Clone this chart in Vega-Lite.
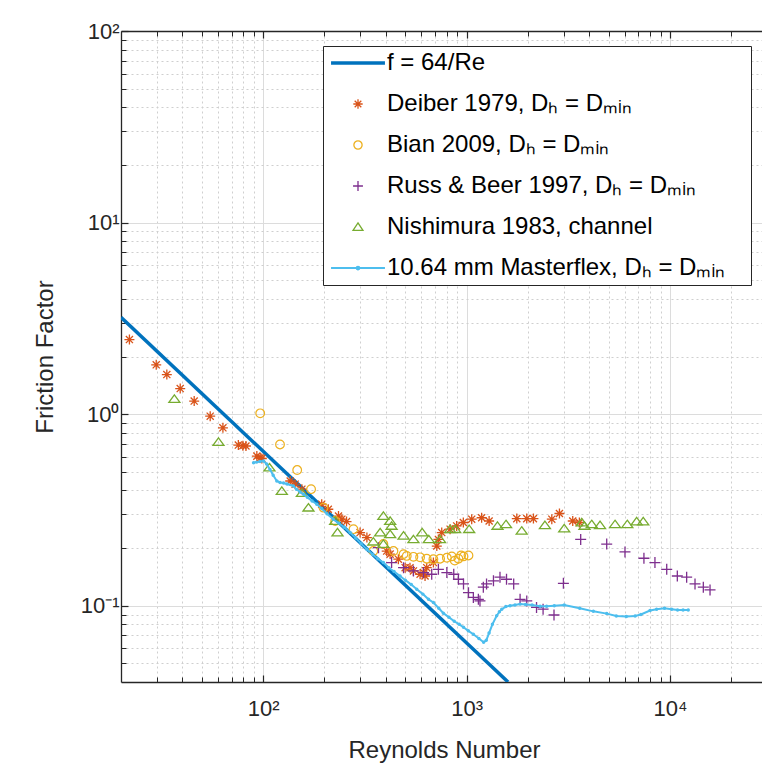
{
  "$schema": "https://vega.github.io/schema/vega-lite/v6.json",
  "width": 646,
  "height": 651,
  "autosize": {"type": "none"},
  "padding": {"left": 121, "top": 31, "right": 0, "bottom": 88},
  "background": "white",
  "config": {
    "view": {"stroke": null},
    "font": "Liberation Sans",
    "axis": {"labelFont": "Liberation Sans", "titleFont": "Liberation Sans", "labelColor": "#262626", "titleColor": "#262626", "titleFontWeight": "normal"}
  },
  "datasets": {
    "fline": [
      {"series": "f", "re": 20, "f": 3.2},
      {"series": "f", "re": 1600, "f": 0.04}
    ],
    "deiber": [
      {"series": "deiber", "re": 22, "f": 2.45}, {"series": "deiber", "re": 29.8, "f": 1.81}, {"series": "deiber", "re": 33.6, "f": 1.61},
      {"series": "deiber", "re": 39.1, "f": 1.36}, {"series": "deiber", "re": 45.8, "f": 1.17}, {"series": "deiber", "re": 54.9, "f": 0.976},
      {"series": "deiber", "re": 63.4, "f": 0.849}, {"series": "deiber", "re": 75.5, "f": 0.69}, {"series": "deiber", "re": 79.5, "f": 0.685},
      {"series": "deiber", "re": 82.3, "f": 0.682}, {"series": "deiber", "re": 93.1, "f": 0.604}, {"series": "deiber", "re": 96.7, "f": 0.59},
      {"series": "deiber", "re": 98.5, "f": 0.587}, {"series": "deiber", "re": 135.8, "f": 0.448}, {"series": "deiber", "re": 143.6, "f": 0.431},
      {"series": "deiber", "re": 155, "f": 0.406}, {"series": "deiber", "re": 194, "f": 0.339}, {"series": "deiber", "re": 209, "f": 0.319},
      {"series": "deiber", "re": 234.6, "f": 0.294}, {"series": "deiber", "re": 243.7, "f": 0.283}, {"series": "deiber", "re": 257, "f": 0.275},
      {"series": "deiber", "re": 299.6, "f": 0.241}, {"series": "deiber", "re": 323.6, "f": 0.227}, {"series": "deiber", "re": 405, "f": 0.193},
      {"series": "deiber", "re": 421, "f": 0.186}, {"series": "deiber", "re": 462, "f": 0.175}, {"series": "deiber", "re": 499, "f": 0.158},
      {"series": "deiber", "re": 527, "f": 0.158}, {"series": "deiber", "re": 548, "f": 0.152}, {"series": "deiber", "re": 591, "f": 0.146},
      {"series": "deiber", "re": 614, "f": 0.149}, {"series": "deiber", "re": 625, "f": 0.143}, {"series": "deiber", "re": 637, "f": 0.158},
      {"series": "deiber", "re": 687, "f": 0.168}, {"series": "deiber", "re": 714, "f": 0.205}, {"series": "deiber", "re": 727, "f": 0.222},
      {"series": "deiber", "re": 755, "f": 0.241}, {"series": "deiber", "re": 830, "f": 0.251}, {"series": "deiber", "re": 894, "f": 0.261},
      {"series": "deiber", "re": 964, "f": 0.272}, {"series": "deiber", "re": 1060, "f": 0.283}, {"series": "deiber", "re": 1186, "f": 0.288},
      {"series": "deiber", "re": 1291, "f": 0.277}, {"series": "deiber", "re": 1766, "f": 0.285}, {"series": "deiber", "re": 1977, "f": 0.285},
      {"series": "deiber", "re": 2132, "f": 0.285}, {"series": "deiber", "re": 2625, "f": 0.283}, {"series": "deiber", "re": 2862, "f": 0.303},
      {"series": "deiber", "re": 3327, "f": 0.277}, {"series": "deiber", "re": 3586, "f": 0.272}
    ],
    "bian": [
      {"series": "bian", "re": 96.7, "f": 1.01}, {"series": "bian", "re": 121, "f": 0.695}, {"series": "bian", "re": 147, "f": 0.511},
      {"series": "bian", "re": 172, "f": 0.406}, {"series": "bian", "re": 198, "f": 0.325}, {"series": "bian", "re": 226, "f": 0.277},
      {"series": "bian", "re": 278, "f": 0.251}, {"series": "bian", "re": 348, "f": 0.193}, {"series": "bian", "re": 390, "f": 0.21},
      {"series": "bian", "re": 437, "f": 0.193}, {"series": "bian", "re": 490, "f": 0.186}, {"series": "bian", "re": 508, "f": 0.182},
      {"series": "bian", "re": 548, "f": 0.18}, {"series": "bian", "re": 591, "f": 0.179}, {"series": "bian", "re": 637, "f": 0.176},
      {"series": "bian", "re": 687, "f": 0.175}, {"series": "bian", "re": 741, "f": 0.176}, {"series": "bian", "re": 800, "f": 0.178},
      {"series": "bian", "re": 846, "f": 0.181}, {"series": "bian", "re": 875, "f": 0.172}, {"series": "bian", "re": 912, "f": 0.176},
      {"series": "bian", "re": 940, "f": 0.183}, {"series": "bian", "re": 966, "f": 0.181}, {"series": "bian", "re": 1022, "f": 0.183}
    ],
    "russ": [
      {"series": "russ", "re": 369, "f": 0.201}, {"series": "russ", "re": 428, "f": 0.168}, {"series": "russ", "re": 490, "f": 0.158},
      {"series": "russ", "re": 548, "f": 0.152}, {"series": "russ", "re": 614, "f": 0.149}, {"series": "russ", "re": 674, "f": 0.146},
      {"series": "russ", "re": 727, "f": 0.155}, {"series": "russ", "re": 800, "f": 0.149}, {"series": "russ", "re": 865, "f": 0.146},
      {"series": "russ", "re": 912, "f": 0.1375}, {"series": "russ", "re": 966, "f": 0.13}, {"series": "russ", "re": 1022, "f": 0.117},
      {"series": "russ", "re": 1080, "f": 0.1105}, {"series": "russ", "re": 1143, "f": 0.108}, {"series": "russ", "re": 1164, "f": 0.106},
      {"series": "russ", "re": 1209, "f": 0.125}, {"series": "russ", "re": 1254, "f": 0.13}, {"series": "russ", "re": 1356, "f": 0.135},
      {"series": "russ", "re": 1460, "f": 0.141}, {"series": "russ", "re": 1572, "f": 0.1375}, {"series": "russ", "re": 1705, "f": 0.13},
      {"series": "russ", "re": 1833, "f": 0.108}, {"series": "russ", "re": 1977, "f": 0.106}, {"series": "russ", "re": 2208, "f": 0.098},
      {"series": "russ", "re": 2378, "f": 0.096}, {"series": "russ", "re": 2691, "f": 0.0895}, {"series": "russ", "re": 2993, "f": 0.131},
      {"series": "russ", "re": 3640, "f": 0.222}, {"series": "russ", "re": 4887, "f": 0.21}, {"series": "russ", "re": 6010, "f": 0.191},
      {"series": "russ", "re": 7448, "f": 0.177}, {"series": "russ", "re": 8437, "f": 0.168}, {"series": "russ", "re": 9640, "f": 0.155},
      {"series": "russ", "re": 10870, "f": 0.143}, {"series": "russ", "re": 12080, "f": 0.141}, {"series": "russ", "re": 13280, "f": 0.13},
      {"series": "russ", "re": 14590, "f": 0.125}, {"series": "russ", "re": 15740, "f": 0.121}
    ],
    "nish": [
      {"series": "nish", "re": 36.6, "f": 1.2}, {"series": "nish", "re": 60.3, "f": 0.715}, {"series": "nish", "re": 107.4, "f": 0.526},
      {"series": "nish", "re": 123.5, "f": 0.397}, {"series": "nish", "re": 155, "f": 0.387}, {"series": "nish", "re": 167, "f": 0.325},
      {"series": "nish", "re": 226, "f": 0.277}, {"series": "nish", "re": 232, "f": 0.241}, {"series": "nish", "re": 348, "f": 0.216},
      {"series": "nish", "re": 376, "f": 0.241}, {"series": "nish", "re": 390, "f": 0.294}, {"series": "nish", "re": 390, "f": 0.21},
      {"series": "nish", "re": 421, "f": 0.277}, {"series": "nish", "re": 428, "f": 0.261}, {"series": "nish", "re": 421, "f": 0.236},
      {"series": "nish", "re": 490, "f": 0.232}, {"series": "nish", "re": 548, "f": 0.222}, {"series": "nish", "re": 605, "f": 0.241},
      {"series": "nish", "re": 652, "f": 0.222}, {"series": "nish", "re": 741, "f": 0.222}, {"series": "nish", "re": 830, "f": 0.251},
      {"series": "nish", "re": 879, "f": 0.251}, {"series": "nish", "re": 1030, "f": 0.251}, {"series": "nish", "re": 1419, "f": 0.261},
      {"series": "nish", "re": 1563, "f": 0.266}, {"series": "nish", "re": 1867, "f": 0.246}, {"series": "nish", "re": 2428, "f": 0.263},
      {"series": "nish", "re": 3021, "f": 0.253}, {"series": "nish", "re": 3683, "f": 0.272}, {"series": "nish", "re": 3800, "f": 0.261},
      {"series": "nish", "re": 4124, "f": 0.266}, {"series": "nish", "re": 4532, "f": 0.263}, {"series": "nish", "re": 5370, "f": 0.266},
      {"series": "nish", "re": 6170, "f": 0.266}, {"series": "nish", "re": 6858, "f": 0.275}, {"series": "nish", "re": 7390, "f": 0.275}
    ],
    "mf": [
      {"series": "mf", "re": 89.7, "f": 0.558}, {"series": "mf", "re": 93, "f": 0.562}, {"series": "mf", "re": 96.5, "f": 0.566},
      {"series": "mf", "re": 100.4, "f": 0.57}, {"series": "mf", "re": 104, "f": 0.55}, {"series": "mf", "re": 108, "f": 0.515},
      {"series": "mf", "re": 112, "f": 0.48}, {"series": "mf", "re": 116.7, "f": 0.448}, {"series": "mf", "re": 121, "f": 0.44},
      {"series": "mf", "re": 126, "f": 0.437}, {"series": "mf", "re": 131, "f": 0.432}, {"series": "mf", "re": 140.8, "f": 0.422},
      {"series": "mf", "re": 146, "f": 0.405}, {"series": "mf", "re": 152, "f": 0.392}, {"series": "mf", "re": 157.9, "f": 0.382},
      {"series": "mf", "re": 165, "f": 0.368}, {"series": "mf", "re": 174, "f": 0.352}, {"series": "mf", "re": 183.5, "f": 0.339},
      {"series": "mf", "re": 194, "f": 0.322}, {"series": "mf", "re": 206, "f": 0.302}, {"series": "mf", "re": 221, "f": 0.283},
      {"series": "mf", "re": 235, "f": 0.27}, {"series": "mf", "re": 250, "f": 0.257}, {"series": "mf", "re": 267.6, "f": 0.241},
      {"series": "mf", "re": 285, "f": 0.226}, {"series": "mf", "re": 303, "f": 0.211}, {"series": "mf", "re": 323.6, "f": 0.197},
      {"series": "mf", "re": 345, "f": 0.185}, {"series": "mf", "re": 366, "f": 0.176}, {"series": "mf", "re": 390, "f": 0.168},
      {"series": "mf", "re": 415, "f": 0.158}, {"series": "mf", "re": 440, "f": 0.151}, {"series": "mf", "re": 471, "f": 0.143},
      {"series": "mf", "re": 500, "f": 0.136}, {"series": "mf", "re": 535, "f": 0.129}, {"series": "mf", "re": 569, "f": 0.122},
      {"series": "mf", "re": 610, "f": 0.115}, {"series": "mf", "re": 650, "f": 0.108}, {"series": "mf", "re": 687, "f": 0.104},
      {"series": "mf", "re": 730, "f": 0.097}, {"series": "mf", "re": 769, "f": 0.0915}, {"series": "mf", "re": 820, "f": 0.087},
      {"series": "mf", "re": 870, "f": 0.083}, {"series": "mf", "re": 920, "f": 0.08}, {"series": "mf", "re": 966, "f": 0.0772},
      {"series": "mf", "re": 1020, "f": 0.074}, {"series": "mf", "re": 1080, "f": 0.071}, {"series": "mf", "re": 1150, "f": 0.0675},
      {"series": "mf", "re": 1213, "f": 0.0645}, {"series": "mf", "re": 1250, "f": 0.066}, {"series": "mf", "re": 1290, "f": 0.072},
      {"series": "mf", "re": 1340, "f": 0.08}, {"series": "mf", "re": 1406, "f": 0.0887}, {"series": "mf", "re": 1450, "f": 0.093},
      {"series": "mf", "re": 1490, "f": 0.096}, {"series": "mf", "re": 1560, "f": 0.099}, {"series": "mf", "re": 1636, "f": 0.1},
      {"series": "mf", "re": 1730, "f": 0.101}, {"series": "mf", "re": 1833, "f": 0.102}, {"series": "mf", "re": 1950, "f": 0.1015},
      {"series": "mf", "re": 2100, "f": 0.101}, {"series": "mf", "re": 2300, "f": 0.0995}, {"series": "mf", "re": 2476, "f": 0.0995},
      {"series": "mf", "re": 2700, "f": 0.1}, {"series": "mf", "re": 3021, "f": 0.1008}, {"series": "mf", "re": 3600, "f": 0.097},
      {"series": "mf", "re": 4200, "f": 0.0935}, {"series": "mf", "re": 4887, "f": 0.091}, {"series": "mf", "re": 5450, "f": 0.0885},
      {"series": "mf", "re": 6100, "f": 0.088}, {"series": "mf", "re": 6740, "f": 0.0885}, {"series": "mf", "re": 7200, "f": 0.09},
      {"series": "mf", "re": 7980, "f": 0.0945}, {"series": "mf", "re": 8600, "f": 0.096}, {"series": "mf", "re": 9400, "f": 0.097},
      {"series": "mf", "re": 10200, "f": 0.096}, {"series": "mf", "re": 10900, "f": 0.095}, {"series": "mf", "re": 11600, "f": 0.095},
      {"series": "mf", "re": 12300, "f": 0.095}
    ]
  },
  "resolve": {"axis": {"x": "independent", "y": "independent"}},
  "layer": [
    {
      "data": {"name": "fline"},
      "mark": {"type": "line", "strokeWidth": 3.5, "clip": true},
      "encoding": {
        "x": {"field": "re", "type": "quantitative", "scale": {"type": "log", "domain": [20, 30000], "nice": false},
          "axis": {"orient": "bottom", "values": [100, 1000, 10000], "grid": true, "gridColor": "#dcdcdc", "gridWidth": 1,
            "domain": true, "domainColor": "#262626", "domainWidth": 1.3, "ticks": true, "tickSize": -7, "tickColor": "#262626", "tickWidth": 1.2,
            "labelExpr": "datum.value < 500 ? '10²' : datum.value < 5000 ? '10³' : '10⁴'", "labelFontSize": 22, "labelPadding": 23, "labelFlush": false,
            "title": "Reynolds Number", "titleFontSize": 24, "titlePadding": 19}},
        "y": {"field": "f", "type": "quantitative", "scale": {"type": "log", "domain": [0.04, 100], "nice": false},
          "axis": {"orient": "left", "values": [0.1, 1, 10, 100], "grid": true, "gridColor": "#dcdcdc", "gridWidth": 1,
            "domain": true, "domainColor": "#262626", "domainWidth": 1.3, "ticks": true, "tickSize": -7, "tickColor": "#262626", "tickWidth": 1.2,
            "labelExpr": "datum.value < 0.5 ? '10⁻¹' : datum.value < 5 ? '10⁰' : datum.value < 50 ? '10¹' : '10²'", "labelFontSize": 22, "labelPadding": 9, "labelFlush": false,
            "title": "Friction Factor", "titleFontSize": 24, "titlePadding": 23}},
        "color": {"field": "series", "type": "nominal",
          "scale": {"domain": ["f", "deiber", "bian", "russ", "nish", "mf"], "range": ["#0072BD", "#D95319", "#EDB120", "#7E2F8E", "#77AC30", "#4DBEEE"]},
          "legend": {
            "title": null, "orient": "none", "legendX": 202, "legendY": 15, "direction": "vertical",
            "strokeColor": "#262626", "fillColor": "white", "padding": 5,
            "symbolSize": 3025, "symbolStrokeWidth": 1.3, "symbolOffset": 18,
            "labelFontSize": 24, "labelFont": "Liberation Sans", "labelColor": "#000000", "labelLimit": 700, "labelOffset": 17, "rowPadding": 17,
            "labelExpr": "datum.value == 'f' ? 'f = 64/Re' : datum.value == 'deiber' ? 'Deiber 1979, Dₕ = Dₘᵢₙ' : datum.value == 'bian' ? 'Bian 2009, Dₕ = Dₘᵢₙ' : datum.value == 'russ' ? 'Russ & Beer 1997, Dₕ = Dₘᵢₙ' : datum.value == 'nish' ? 'Nishimura 1983, channel' : '10.64 mm Masterflex, Dₕ = Dₘᵢₙ\u00a0\u00a0\u00a0\u200b'",
            "encode": {"symbols": {"update": {
              "shape": {"signal": "datum.value == 'f' ? 'M-0.98,0L0.98,0' : datum.value == 'deiber' ? 'M-0.17,0L0.17,0M0,-0.17L0,0.17M-0.12,-0.12L0.12,0.12M-0.12,0.12L0.12,-0.12' : datum.value == 'bian' ? 'M0.15,0A0.15,0.15 0 1,1 -0.15,0A0.15,0.15 0 1,1 0.15,0Z' : datum.value == 'russ' ? 'M-0.18,0L0.18,0M0,-0.18L0,0.18' : datum.value == 'nish' ? 'M0,-0.15L0.18,0.12L-0.18,0.12Z' : 'M-0.98,0L0.98,0M0.05,0A0.05,0.05 0 1,1 -0.05,0A0.05,0.05 0 1,1 0.05,0Z'"},
              "strokeWidth": {"signal": "datum.value == 'f' ? 3.5 : datum.value == 'mf' ? 2 : 1.3"},
              "fill": {"value": "transparent"},
              "fillOpacity": {"value": 0},
              "size": {"value": 3025}
            }}}
          }}
      }
    },
    {
      "data": {"name": "deiber"},
      "mark": {"type": "point", "shape": "M-1,0L1,0M0,-1L0,1M-0.71,-0.71L0.71,0.71M-0.71,0.71L0.71,-0.71", "filled": false, "size": 100, "strokeWidth": 1.3, "opacity": 1, "clip": true},
      "encoding": {
        "x": {"field": "re", "type": "quantitative", "scale": {"type": "log", "domain": [20, 30000], "nice": false},
          "axis": {"orient": "bottom", "values": [30, 40, 50, 60, 70, 80, 90, 200, 300, 400, 500, 600, 700, 800, 900, 2000, 3000, 4000, 5000, 6000, 7000, 8000, 9000, 20000],
            "grid": true, "gridColor": "#cfcfcf", "gridDash": [2, 3], "gridWidth": 1, "domain": false, "ticks": true, "tickSize": -5, "tickColor": "#262626", "tickWidth": 1, "labels": false, "title": null}},
        "y": {"field": "f", "type": "quantitative", "scale": {"type": "log", "domain": [0.04, 100], "nice": false},
          "axis": {"orient": "left", "values": [0.05, 0.06, 0.07, 0.08, 0.09, 0.2, 0.3, 0.4, 0.5, 0.6, 0.7, 0.8, 0.9, 2, 3, 4, 5, 6, 7, 8, 9, 20, 30, 40, 50, 60, 70, 80, 90],
            "grid": true, "gridColor": "#cfcfcf", "gridDash": [2, 3], "gridWidth": 1, "domain": false, "ticks": true, "tickSize": -5, "tickColor": "#262626", "tickWidth": 1, "labels": false, "title": null}},
        "color": {"field": "series", "type": "nominal", "scale": {"domain": ["f", "deiber", "bian", "russ", "nish", "mf"], "range": ["#0072BD", "#D95319", "#EDB120", "#7E2F8E", "#77AC30", "#4DBEEE"]}}
      }
    },
    {
      "data": {"name": "bian"},
      "mark": {"type": "point", "shape": "circle", "filled": false, "size": 75, "strokeWidth": 1.2, "opacity": 1, "clip": true},
      "encoding": {
        "x": {"field": "re", "type": "quantitative", "scale": {"type": "log", "domain": [20, 30000], "nice": false},
          "axis": {"orient": "top", "values": [100, 1000, 10000], "grid": false, "domain": true, "domainColor": "#262626", "domainWidth": 1.3, "ticks": true, "tickSize": -7, "tickColor": "#262626", "tickWidth": 1.2, "labels": false, "title": null}},
        "y": {"field": "f", "type": "quantitative", "scale": {"type": "log", "domain": [0.04, 100], "nice": false}, "axis": null},
        "color": {"field": "series", "type": "nominal", "scale": {"domain": ["f", "deiber", "bian", "russ", "nish", "mf"], "range": ["#0072BD", "#D95319", "#EDB120", "#7E2F8E", "#77AC30", "#4DBEEE"]}}
      }
    },
    {
      "data": {"name": "russ"},
      "mark": {"type": "point", "shape": "M-1,0L1,0M0,-1L0,1", "filled": false, "size": 121, "strokeWidth": 1.3, "opacity": 1, "clip": true},
      "encoding": {
        "x": {"field": "re", "type": "quantitative", "scale": {"type": "log", "domain": [20, 30000], "nice": false},
          "axis": {"orient": "top", "values": [30, 40, 50, 60, 70, 80, 90, 200, 300, 400, 500, 600, 700, 800, 900, 2000, 3000, 4000, 5000, 6000, 7000, 8000, 9000, 20000],
            "grid": false, "domain": false, "ticks": true, "tickSize": -5, "tickColor": "#262626", "tickWidth": 1, "labels": false, "title": null}},
        "y": {"field": "f", "type": "quantitative", "scale": {"type": "log", "domain": [0.04, 100], "nice": false}, "axis": null},
        "color": {"field": "series", "type": "nominal", "scale": {"domain": ["f", "deiber", "bian", "russ", "nish", "mf"], "range": ["#0072BD", "#D95319", "#EDB120", "#7E2F8E", "#77AC30", "#4DBEEE"]}}
      }
    },
    {
      "data": {"name": "nish"},
      "mark": {"type": "point", "shape": "M0,-0.75L1,0.6L-1,0.6Z", "filled": false, "size": 121, "strokeWidth": 1.3, "opacity": 1, "clip": true},
      "encoding": {
        "x": {"field": "re", "type": "quantitative", "scale": {"type": "log", "domain": [20, 30000], "nice": false}, "axis": null},
        "y": {"field": "f", "type": "quantitative", "scale": {"type": "log", "domain": [0.04, 100], "nice": false}, "axis": null},
        "color": {"field": "series", "type": "nominal", "scale": {"domain": ["f", "deiber", "bian", "russ", "nish", "mf"], "range": ["#0072BD", "#D95319", "#EDB120", "#7E2F8E", "#77AC30", "#4DBEEE"]}}
      }
    },
    {
      "data": {"name": "mf"},
      "mark": {"type": "line", "strokeWidth": 2, "clip": true},
      "encoding": {
        "x": {"field": "re", "type": "quantitative", "scale": {"type": "log", "domain": [20, 30000], "nice": false}, "axis": null},
        "y": {"field": "f", "type": "quantitative", "scale": {"type": "log", "domain": [0.04, 100], "nice": false}, "axis": null},
        "color": {"field": "series", "type": "nominal", "scale": {"domain": ["f", "deiber", "bian", "russ", "nish", "mf"], "range": ["#0072BD", "#D95319", "#EDB120", "#7E2F8E", "#77AC30", "#4DBEEE"]}}
      }
    },
    {
      "data": {"name": "mf"},
      "mark": {"type": "point", "shape": "circle", "filled": true, "size": 12, "opacity": 1, "clip": true},
      "encoding": {
        "x": {"field": "re", "type": "quantitative", "scale": {"type": "log", "domain": [20, 30000], "nice": false}, "axis": null},
        "y": {"field": "f", "type": "quantitative", "scale": {"type": "log", "domain": [0.04, 100], "nice": false}, "axis": null},
        "color": {"field": "series", "type": "nominal", "scale": {"domain": ["f", "deiber", "bian", "russ", "nish", "mf"], "range": ["#0072BD", "#D95319", "#EDB120", "#7E2F8E", "#77AC30", "#4DBEEE"]}}
      }
    }
  ]
}
